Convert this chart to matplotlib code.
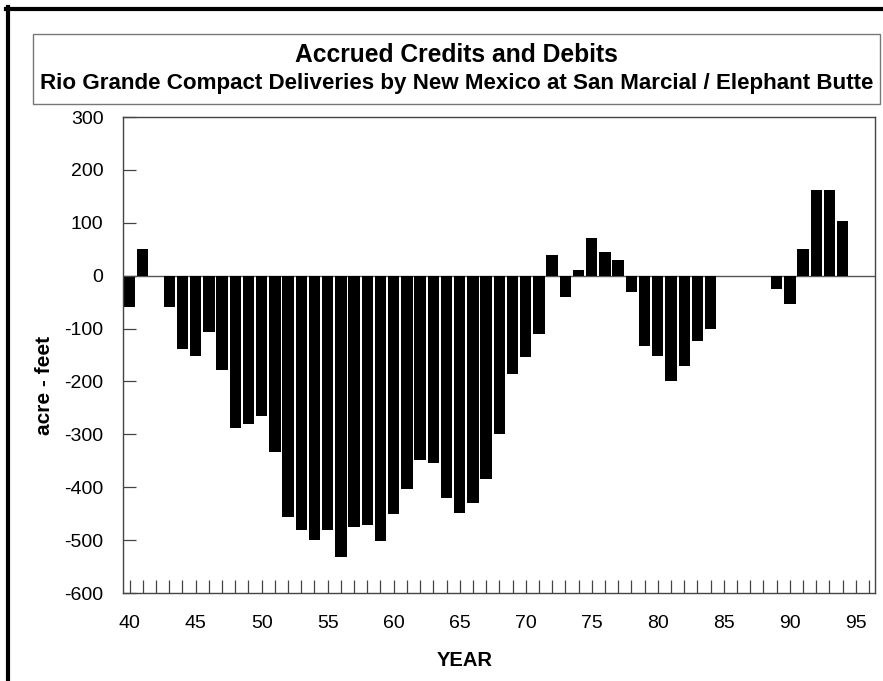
import matplotlib
matplotlib.use("Agg")
import matplotlib.pyplot as plt
from matplotlib.patches import Rectangle
from matplotlib.lines import Line2D

plt.rcParams['font.family'] = ['Liberation Sans', 'DejaVu Sans']

years = list(range(40, 95))
values = [-60, 50, 0, -60, -138, -151, -106, -178, -288, -281,
          -265, -334, -456, -481, -500, -480, -532, -476, -472, -501,
          -450, -404, -349, -355, -421, -449, -429, -385, -300, -185,
          -154, -110, 39, -40, 11, 71, 45, 30, -31, -133,
          -151, -199, -171, -124, -100, 0, 0, 0, 0, -25,
          -54, 51, 162, 162, 103]
x_labels = [40, 45, 50, 55, 60, 65, 70, 75, 80, 85, 90, 95]
y_ticks = [-600, -500, -400, -300, -200, -100, 0, 100, 200, 300]

title = "Accrued Credits and Debits"
subtitle = "Rio Grande Compact Deliveries by New Mexico at San Marcial / Elephant Butte"

W, H = 883, 681
fig = plt.figure(figsize=(W / 100, H / 100), dpi=100)

def fx(px):
    return px / W

def fy(py):
    return 1 - py / H

# outer thick border (top and left visible)
fig.add_artist(Line2D([fx(6), fx(883)], [fy(9), fy(9)], color='black', lw=3.0, transform=fig.transFigure))
fig.add_artist(Line2D([fx(8), fx(8)], [fy(7), fy(681)], color='black', lw=3.0, transform=fig.transFigure))

# title box
fig.add_artist(Rectangle((fx(33), fy(104)), fx(880) - fx(33), fy(34) - fy(104),
                         transform=fig.transFigure, fill=False, edgecolor='#777777', lw=1.0))
fig.text(fx(456), fy(55), title, ha='center', va='center', fontsize=17.7, fontweight='bold')
fig.text(fx(457), fy(84), subtitle, ha='center', va='center', fontsize=16.1, fontweight='bold')

ax = fig.add_axes([fx(123), fy(593), fx(875) - fx(123), fy(117) - fy(593)])
ax.bar(years, values, width=0.86, color='black', edgecolor='none')
ax.axhline(0, color='#555555', lw=1.0, zorder=0)

ax.set_xlim(39.5, 96.45)
ax.set_ylim(-600, 300)
ax.set_yticks(y_ticks)
ax.set_yticklabels([str(v) for v in y_ticks], fontsize=14)
ax.set_xticks(list(range(40, 97)))
ax.set_xticklabels([str(y) if y in x_labels else '' for y in range(40, 97)], fontsize=14)
ax.tick_params(axis='y', direction='in', length=9.5, width=0.9, color='#444444', pad=14)
ax.tick_params(axis='x', direction='in', length=9.5, width=0.9, color='#444444', pad=16)
for s in ax.spines.values():
    s.set_color('#444444')
    s.set_linewidth(1.0)

fig.text(fx(45), fy(385), "acre - feet", rotation=90, ha='center', va='center',
         fontsize=15, fontweight='bold')
fig.text(fx(465), fy(660), "YEAR", ha='center', va='center', fontsize=14.5, fontweight='bold')

fig.savefig("out.png", dpi=100)
